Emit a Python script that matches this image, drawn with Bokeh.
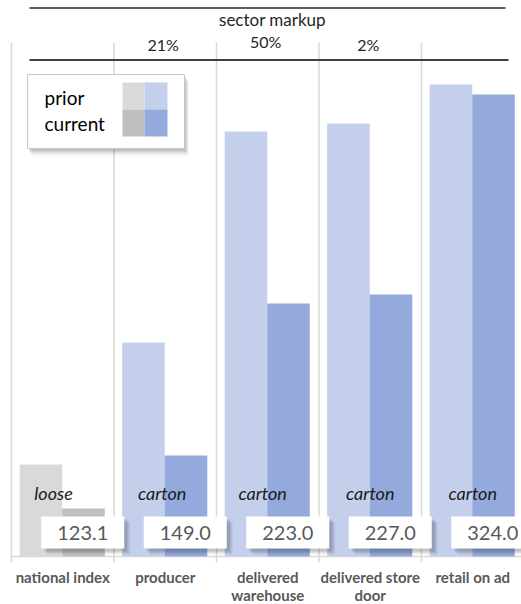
from bokeh.plotting import figure
from bokeh.models import Range1d
from bokeh.core.properties import value
from bokeh.embed import file_html
from bokeh.resources import INLINE

# ---------------- data ----------------
categories = ["national index", "producer", "delivered\nwarehouse", "delivered store\ndoor", "retail on ad"]
pack_type = ["loose", "carton", "carton", "carton", "carton"]
prior = [92, 214, 425, 433, 472]
current = [48, 101, 253, 262, 462]
price = [123.1, 149.0, 223.0, 227.0, 324.0]
markup = ["", "21%", "50%", "2%", ""]
legend_labels = ["prior", "current"]

# ---------------- styles ----------------
prior_colors = ["#d9d9d9", "#c3cfeb", "#c3cfeb", "#c3cfeb", "#c3cfeb"]
current_colors = ["#bfbfbf", "#94a9dc", "#94a9dc", "#94a9dc", "#94a9dc"]
FONT = "Lato"

W, H = 521, 604
COL, X0, BASE = 102.5, 11, 556


def dx(px):
    return (px - X0) / COL


def dy(py):
    return BASE - py


p = figure(width=W, height=H, x_range=Range1d(dx(0), dx(W)), y_range=Range1d(dy(H), dy(0)),
           output_backend="svg", toolbar_location=None, min_border=0,
           x_axis_location=None, y_axis_location=None)
p.grid.visible = False
p.outline_line_color = None
p.background_fill_color = "white"
p.border_fill_color = "white"

idx = list(range(len(categories)))

# gridlines (category boundaries) + ticks
p.segment(x0=idx, x1=idx, y0=[dy(42)] * 5, y1=[dy(562)] * 5, line_color="#d9d9d9", line_width=1.5)
# baseline
p.segment(x0=[0], x1=[dx(W)], y0=[0], y1=[0], line_color="#d9d9d9", line_width=1.5)

# bars
p.quad(left=[i + 0.08 for i in idx], right=[i + 0.495 for i in idx], bottom=0, top=prior,
       fill_color=prior_colors, line_color=None)
p.quad(left=[i + 0.495 for i in idx], right=[i + 0.91 for i in idx], bottom=0, top=current,
       fill_color=current_colors, line_color=None)

# packaging labels
pack_x = [0.41, 1.47, 2.45, 3.50, 4.50]
p.text(x=pack_x, y=[dy(492)] * 5, text=pack_type, text_align="center", text_baseline="middle",
       text_font=value(FONT), text_font_style="italic", text_font_size="18px", text_color="#1a1a1a")

# value boxes with shadows
for off, a in [(6, 0.06), (4.5, 0.08), (3, 0.11)]:
    p.quad(left=[i + 0.29 + off / COL for i in idx], right=[i + 1.10 + off / COL for i in idx],
           top=[dy(516 + off)] * 5, bottom=[dy(548 + off)] * 5,
           fill_color="black", fill_alpha=a, line_color=None)
p.quad(left=[i + 0.29 for i in idx], right=[i + 1.10 for i in idx],
       top=[dy(516)] * 5, bottom=[dy(548)] * 5, fill_color="white", line_color=None)
p.text(x=[i + 0.695 for i in idx], y=[dy(532)] * 5, text=[f"{v:.1f}" for v in price],
       text_align="center", text_baseline="middle", text_font=value(FONT),
       text_font_size="20px", text_color="#595959")

# category labels
p.text(x=[i + 0.5 for i in idx], y=[dy(567)] * 5, text=categories, text_align="center",
       text_baseline="top", text_font=value(FONT), text_font_style="bold",
       text_font_size="15px", text_color="#595959", text_line_height=1.0)

# top header
p.segment(x0=[dx(29)], x1=[dx(505)], y0=[dy(7.5)], y1=[dy(7.5)], line_color="#262626", line_width=1.5)
p.segment(x0=[dx(29)], x1=[dx(508)], y0=[dy(59.5)], y1=[dy(59.5)], line_color="#404040", line_width=2)
p.text(x=[dx(272)], y=[dy(19)], text=["sector markup"], text_align="center", text_baseline="middle",
       text_font=value(FONT), text_font_size="17px", text_color="#262626")
p.text(x=[i + 0.48 for i in idx], y=[dy(44), dy(44), dy(41), dy(44), dy(44)], text=markup,
       text_align="center", text_baseline="middle", text_font=value(FONT),
       text_font_size="16px", text_color="#262626")

# legend
for off, a in [(7, 0.05), (5, 0.08), (3, 0.12)]:
    p.quad(left=[dx(27 + off * 0.6)], right=[dx(184 + off * 0.6)], top=[dy(74 + off)], bottom=[dy(148 + off)],
           fill_color="black", fill_alpha=a, line_color=None)
p.quad(left=[dx(27)], right=[dx(184)], top=[dy(74)], bottom=[dy(148)],
       fill_color="white", line_color="#c8c8c8", line_width=1)
p.quad(left=[dx(122), dx(144), dx(122), dx(144)], right=[dx(144), dx(167), dx(144), dx(167)],
       top=[dy(82), dy(82), dy(109), dy(109)], bottom=[dy(109), dy(109), dy(136), dy(136)],
       fill_color=[prior_colors[0], prior_colors[1], current_colors[0], current_colors[1]], line_color=None)
p.text(x=[dx(44)] * 2, y=[dy(97), dy(123)], text=legend_labels, text_align="left", text_baseline="middle",
       text_font=value(FONT), text_font_size="19px", text_color="#000000")

open("out.html", "w").write(file_html(p, INLINE))
